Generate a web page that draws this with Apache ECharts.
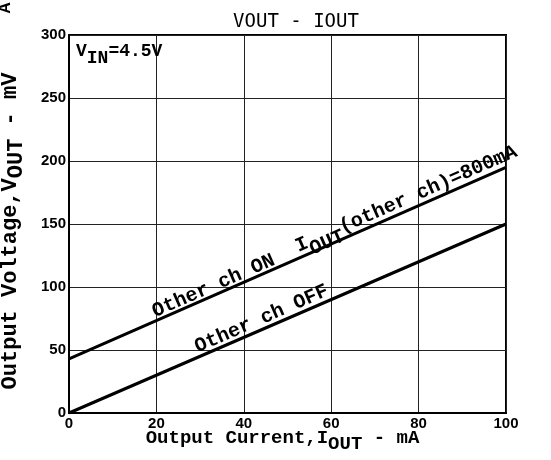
<!DOCTYPE html>
<html><head><meta charset="utf-8">
<script src="https://cdn.jsdelivr.net/npm/echarts@6/dist/echarts.min.js"></script>
<style>html,body{margin:0;padding:0;background:#fff}#c{width:551px;height:460px}</style>
</head><body><div id="c"></div>
<script>
const currents = [0, 50, 100];
const vOn = [43, 119, 195];
const vOff = [0, 75, 150];
const xTicks = [0, 20, 40, 60, 80, 100];
const yTicks = [0, 50, 100, 150, 200, 250, 300];

const mono = "'Liberation Mono', 'DejaVu Sans Mono', monospace";
const chart = echarts.init(document.getElementById('c'), null, {renderer: 'canvas'});
const pairs = arr => currents.map((x, i) => [x, arr[i]]);
const lineStyle = {color: '#000', width: 3};
function nameRich(fs) {
  return {
    n: {fontFamily: mono, fontWeight: 'bold', fontSize: fs, color: '#000', lineHeight: fs + 2, verticalAlign: 'top'},
    s: {fontFamily: mono, fontWeight: 'bold', fontSize: fs, color: '#000', lineHeight: fs + 6, verticalAlign: 'bottom'}
  };
}
chart.setOption({
  animation: false,
  backgroundColor: '#fff',
  title: {
    text: 'VOUT - IOUT', left: 291, top: 8, textAlign: 'center',
    textStyle: {fontFamily: "'DejaVu Sans Mono', monospace", fontWeight: 'normal', fontSize: 19, color: '#000'}
  },
  grid: {left: 69, right: 45, top: 35, bottom: 47, show: true, borderColor: '#000', borderWidth: 2, outerBoundsMode: 'none', containLabel: false},
  xAxis: {
    type: 'value', min: xTicks[0], max: xTicks[xTicks.length - 1], interval: 20,
    axisLine: {lineStyle: {color: '#000', width: 2}}, axisTick: {show: false},
    axisLabel: {color: '#000', fontFamily: "'Liberation Sans', Arial, sans-serif", fontWeight: 'bold', fontSize: 15, margin: 3},
    splitLine: {show: true, lineStyle: {color: '#222', width: 1}},
    name: '{n|Output Current,I}{s|OUT}{n| - mA}', nameLocation: 'middle', nameGap: 16, nameMoveOverlap: false,
    nameTextStyle: {rich: nameRich(19), padding: [0, 10, 0, 0]}
  },
  yAxis: {
    type: 'value', min: yTicks[0], max: yTicks[yTicks.length - 1], interval: 50,
    axisLine: {lineStyle: {color: '#000', width: 2}}, axisTick: {show: false},
    axisLabel: {color: '#000', fontFamily: "'Liberation Sans', Arial, sans-serif", fontWeight: 'bold', fontSize: 15, margin: 3},
    splitLine: {show: true, lineStyle: {color: '#222', width: 1}},
    name: '{n|Output Voltage,V}{s|OUT}{n| - mV}', nameLocation: 'middle', nameGap: 42, nameRotate: 90, nameMoveOverlap: false,
    nameTextStyle: {rich: nameRich(22), padding: [0, 14, 0, 0]}
  },
  series: [
    {type: 'line', data: pairs(vOn), symbol: 'none', lineStyle: lineStyle, silent: true},
    {type: 'line', data: pairs(vOff), symbol: 'none', lineStyle: lineStyle, silent: true}
  ]
});

const p = (x, y) => chart.convertToPixel({gridIndex: 0}, [x, y]);
const a0 = p(0, vOn[0]), a1 = p(100, vOn[2]);
const ang = Math.atan2(a0[1] - a1[1], a1[0] - a0[0]);
const richStyles = {
  n: {fontFamily: mono, fontWeight: 'bold', fontSize: 20, fill: '#000', lineHeight: 22, verticalAlign: 'top'},
  s: {fontFamily: mono, fontWeight: 'bold', fontSize: 20, fill: '#000', lineHeight: 28, verticalAlign: 'bottom'}
};
const richSmall = {
  n: {fontFamily: mono, fontWeight: 'bold', fontSize: 18, fill: '#000', lineHeight: 20, verticalAlign: 'top'},
  s: {fontFamily: mono, fontWeight: 'bold', fontSize: 18, fill: '#000', lineHeight: 25, verticalAlign: 'bottom'}
};
function lbl(cx, cy, text, rot) {
  return {type: 'text', x: cx, y: cy, rotation: rot, silent: true,
    style: {text: text, rich: richStyles, align: 'center', verticalAlign: 'middle'}};
}
chart.setOption({graphic: [
  lbl(214, 287, '{n|Other ch ON}', ang),
  lbl(408, 203, '{n|I}{s|OUT}{n|(other ch)=800mA}', ang),
  lbl(262, 320, '{n|Other ch OFF}', ang),
  {type: 'text', left: 76, top: 42, silent: true,
    style: {text: '{n|V}{s|IN}{n|=4.5V}', rich: richSmall}},
  {type: 'text', x: 6, y: 8, rotation: Math.PI / 2, silent: true,
    style: {text: 'A', font: "bold 16px 'Liberation Sans', sans-serif", fill: '#000', align: 'center', verticalAlign: 'middle'}}
]});
</script></body></html>
